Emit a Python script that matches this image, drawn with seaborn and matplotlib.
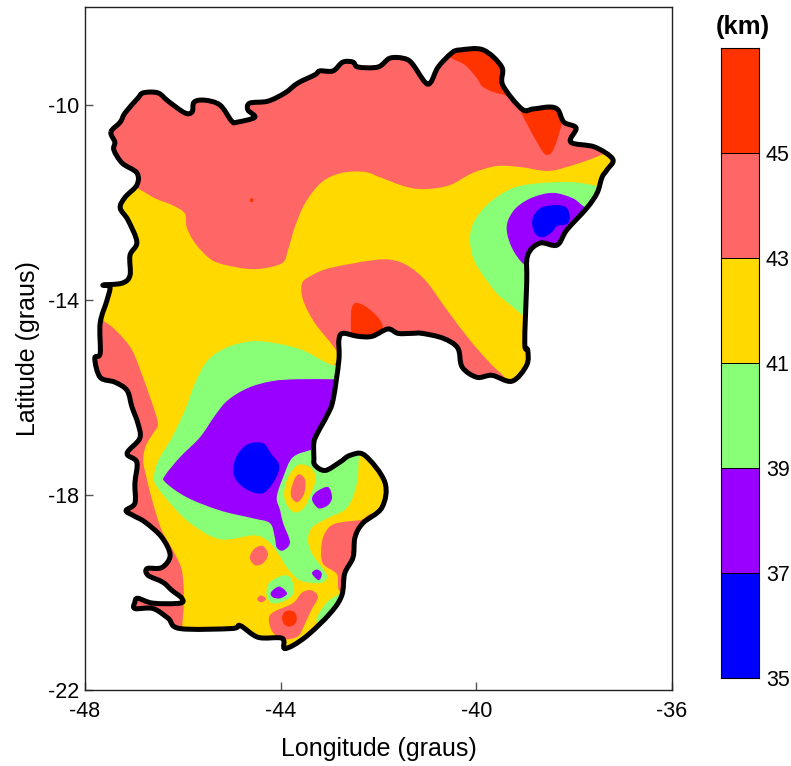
import numpy as np
import matplotlib
matplotlib.use('Agg')
import matplotlib.pyplot as plt
from matplotlib.colors import ListedColormap
from matplotlib.patches import PathPatch
from matplotlib.path import Path
import seaborn as sns

# level colours, lowest to highest
BLUE, PURPLE, GREEN, YELLOW, SALMON, RED = ('#0000FF', '#9900FF', '#88FF77',
                                            '#FFD900', '#FF6666', '#FF3300')
level_colors = [BLUE, PURPLE, GREEN, YELLOW, SALMON, RED]
level_ticks = ['', 45, 43, 41, 39, 37, 35]
level_rows = [5, 4, 3, 2, 1, 0]

x_ticks = [-48, -44, -40, -36]
y_ticks = [-22, -18, -14, -10]

# state border (lon, lat)
border = [(-47.47, -10.56), (-47.28, -10.36), (-47.18, -10.17), (-46.92, -9.87), (-46.81, -9.76),
          (-46.51, -9.76), (-46.30, -9.93), (-45.96, -10.17), (-45.81, -10.15), (-45.77, -9.95),
          (-45.55, -9.91), (-45.24, -10.01), (-45.00, -10.34), (-44.89, -10.36), (-44.53, -10.26),
          (-44.67, -10.11), (-44.63, -9.97), (-44.26, -9.93), (-43.91, -9.76), (-43.65, -9.56),
          (-43.30, -9.39), (-43.20, -9.31), (-42.93, -9.31), (-42.73, -9.13), (-42.52, -9.13),
          (-42.42, -9.23), (-42.01, -9.23), (-41.77, -9.05), (-41.50, -9.05), (-41.32, -9.15),
          (-41.05, -9.54), (-40.93, -9.54), (-40.78, -9.23), (-40.50, -8.94), (-40.33, -8.88),
          (-39.86, -8.88), (-39.48, -9.23), (-39.46, -9.60), (-39.07, -10.09), (-38.84, -10.09),
          (-38.50, -10.05), (-38.33, -10.11), (-38.21, -10.36), (-37.96, -10.48), (-38.07, -10.77),
          (-37.58, -10.87), (-37.21, -11.12), (-37.33, -11.34), (-37.43, -11.49), (-37.53, -11.81),
          (-37.74, -12.12), (-38.15, -12.57), (-38.35, -12.88), (-38.70, -12.84), (-38.95, -13.09),
          (-38.97, -13.66), (-39.01, -14.89), (-38.95, -15.03), (-38.97, -15.34), (-39.27, -15.67),
          (-39.68, -15.55), (-39.99, -15.59), (-40.29, -15.38), (-40.38, -14.99), (-40.68, -14.79),
          (-41.11, -14.69), (-41.32, -14.69), (-41.60, -14.69), (-41.81, -14.60), (-42.13, -14.75),
          (-42.42, -14.75), (-42.73, -14.69), (-42.81, -14.83), (-42.81, -15.24), (-42.93, -16.06),
          (-43.05, -16.37), (-43.24, -16.72), (-43.32, -16.92), (-43.32, -17.23), (-43.30, -17.39),
          (-43.09, -17.50), (-42.79, -17.33), (-42.58, -17.19), (-42.28, -17.19), (-41.87, -17.74),
          (-41.93, -18.26), (-42.32, -18.58), (-42.48, -18.87), (-42.52, -19.28), (-42.69, -19.61),
          (-42.75, -20.06), (-42.99, -20.43), (-43.50, -20.92), (-43.91, -21.15), (-43.97, -20.94),
          (-44.46, -20.92), (-44.83, -20.68), (-45.00, -20.74), (-46.06, -20.74), (-46.30, -20.53),
          (-46.61, -20.33), (-46.98, -20.33), (-46.98, -20.20), (-46.92, -20.12), (-46.61, -20.22),
          (-46.06, -20.22), (-46.02, -20.12), (-46.22, -19.96), (-46.41, -19.79), (-46.71, -19.65),
          (-46.73, -19.51), (-46.43, -19.49), (-46.26, -19.24), (-46.43, -18.87), (-46.77, -18.56),
          (-47.02, -18.42), (-47.16, -18.32), (-46.98, -18.17), (-46.98, -17.76), (-46.94, -17.33),
          (-47.14, -17.15), (-46.88, -16.84), (-46.92, -16.53), (-47.04, -16.20), (-47.14, -15.86),
          (-47.39, -15.69), (-47.69, -15.59), (-47.80, -15.20), (-47.69, -15.10), (-47.69, -14.48),
          (-47.55, -14.01), (-47.49, -13.74), (-47.63, -13.70), (-47.24, -13.66), (-47.08, -13.50),
          (-47.08, -13.09), (-46.94, -12.82), (-47.12, -12.37), (-47.28, -12.12), (-47.18, -11.90),
          (-46.94, -11.65), (-46.94, -11.40), (-47.24, -11.20), (-47.41, -10.93), (-47.39, -10.77)]

# contour regions, the parts outside the border get clipped
north_43 = [(-47.69, -11.34), (-46.94, -11.71), (-46.57, -11.92), (-46.22, -12.06), (-45.96, -12.23),
            (-45.92, -12.51), (-45.75, -12.84), (-45.40, -13.19), (-44.93, -13.33), (-44.46, -13.37),
            (-43.97, -13.25), (-43.85, -12.98), (-43.71, -12.51), (-43.50, -12.02), (-43.16, -11.59),
            (-42.75, -11.40), (-42.28, -11.38), (-41.97, -11.49), (-41.42, -11.69), (-41.01, -11.73),
            (-40.54, -11.65), (-40.07, -11.40), (-39.58, -11.26), (-39.11, -11.28), (-38.56, -11.36),
            (-38.15, -11.28), (-37.47, -11.04), (-36.96, -10.73), (-37.06, -8.68), (-47.69, -8.68)]
top_45 = [(-40.64, -8.88), (-40.54, -9.03), (-40.23, -9.19), (-39.99, -9.46), (-39.86, -9.64),
          (-39.52, -9.78), (-39.11, -9.75), (-39.11, -8.68), (-40.54, -8.68)]
coast_45 = [(-39.27, -9.80), (-39.11, -10.11), (-38.90, -10.52), (-38.64, -10.97), (-38.54, -11.03),
            (-38.45, -10.97), (-38.35, -10.73), (-38.25, -10.38), (-38.09, -9.80)]
dot_45 = [(-44.62, -11.93), (-44.56, -11.93), (-44.56, -11.99), (-44.62, -11.99)]
east_39 = [(-37.27, -11.71), (-37.51, -11.67), (-38.03, -11.59), (-38.70, -11.61), (-39.25, -11.71),
           (-39.72, -12.00), (-40.03, -12.37), (-40.13, -12.72), (-40.07, -13.13), (-39.89, -13.46),
           (-39.58, -13.87), (-39.25, -14.15), (-39.01, -14.34), (-38.60, -14.52), (-37.06, -13.19)]
east_37 = [(-37.47, -12.20), (-37.78, -12.10), (-38.03, -11.92), (-38.43, -11.81), (-38.84, -11.90),
           (-39.17, -12.10), (-39.35, -12.37), (-39.37, -12.64), (-39.25, -12.98), (-39.01, -13.29),
           (-38.60, -13.50), (-37.26, -12.90)]
east_35 = [(-38.86, -12.41), (-38.80, -12.23), (-38.64, -12.10), (-38.35, -12.06), (-38.15, -12.12),
           (-38.09, -12.31), (-38.15, -12.45), (-38.35, -12.49), (-38.45, -12.61), (-38.64, -12.72),
           (-38.80, -12.64)]
center_43 = [(-43.56, -13.66), (-43.36, -13.50), (-42.99, -13.35), (-42.11, -13.19), (-41.70, -13.19),
             (-41.36, -13.33), (-41.01, -13.64), (-40.60, -14.21), (-40.13, -14.83), (-39.72, -15.30),
             (-39.37, -15.65), (-39.31, -15.90), (-42.69, -15.65), (-42.83, -15.10), (-43.30, -14.48),
             (-43.54, -14.01)]
center_45 = [(-42.56, -14.93), (-42.56, -14.67), (-42.56, -14.25), (-42.50, -14.08), (-42.38, -14.08),
             (-42.22, -14.17), (-42.01, -14.36), (-41.91, -14.58), (-42.01, -14.93)]
west_43 = [(-48.00, -14.31), (-47.59, -14.46), (-47.33, -14.67), (-47.04, -15.03), (-46.83, -15.55),
           (-46.67, -16.00), (-46.51, -16.53), (-46.61, -16.74), (-46.75, -16.98), (-46.81, -17.29),
           (-46.73, -17.70), (-46.61, -18.17), (-46.43, -18.73), (-46.20, -19.14), (-46.02, -19.55),
           (-45.98, -20.16), (-46.02, -20.82), (-46.02, -21.30), (-47.90, -21.30)]
center_39 = [(-42.69, -15.28), (-42.95, -15.34), (-43.56, -15.03), (-44.12, -14.89), (-44.59, -14.85),
             (-45.08, -14.97), (-45.49, -15.24), (-45.75, -15.71), (-45.96, -16.27), (-46.22, -16.82),
             (-46.47, -17.23), (-46.57, -17.50), (-46.57, -17.76), (-46.26, -18.17), (-45.85, -18.58),
             (-45.24, -18.91), (-44.57, -18.83), (-44.28, -18.93), (-44.05, -19.20), (-43.87, -19.49),
             (-43.61, -19.75), (-43.20, -19.81), (-43.05, -19.69), (-43.14, -19.51), (-43.36, -19.20),
             (-43.44, -18.93), (-43.36, -18.67), (-43.05, -18.48), (-42.64, -18.26), (-42.44, -17.76),
             (-42.40, -17.23), (-42.34, -16.88), (-42.69, -16.06)]
center_37 = [(-42.69, -15.63), (-42.95, -15.63), (-43.65, -15.63), (-44.18, -15.67), (-44.67, -15.81),
             (-45.08, -16.06), (-45.34, -16.37), (-45.65, -16.82), (-46.06, -17.23), (-46.36, -17.60),
             (-46.36, -17.74), (-45.92, -18.05), (-45.24, -18.32), (-44.57, -18.48), (-44.22, -18.58),
             (-44.12, -18.87), (-44.08, -19.08), (-43.95, -19.14), (-43.81, -18.97), (-43.95, -18.58),
             (-44.01, -18.32), (-44.08, -18.05), (-43.95, -17.64), (-43.75, -17.23), (-43.34, -17.07),
             (-42.89, -16.98), (-42.69, -16.47)]
center_35 = [(-44.97, -17.46), (-44.89, -17.19), (-44.67, -16.96), (-44.36, -16.94), (-44.20, -17.15),
             (-44.03, -17.39), (-44.10, -17.66), (-44.30, -17.93), (-44.48, -17.97), (-44.73, -17.87),
             (-44.92, -17.68)]
ring_41 = [(-43.93, -17.97), (-43.85, -17.64), (-43.65, -17.39), (-43.40, -17.43), (-43.28, -17.66),
           (-43.38, -17.97), (-43.52, -18.26), (-43.71, -18.36), (-43.87, -18.21)]
ring_43 = [(-43.79, -17.91), (-43.71, -17.66), (-43.61, -17.58), (-43.50, -17.70), (-43.52, -17.97),
           (-43.65, -18.15), (-43.77, -18.07)]
small_37 = [(-43.36, -18.07), (-43.26, -17.93), (-43.03, -17.84), (-42.95, -18.05), (-43.03, -18.21),
            (-43.20, -18.28), (-43.30, -18.21)]
se_43 = [(-42.10, -18.50), (-42.38, -18.52), (-42.85, -18.58), (-43.05, -18.71), (-43.16, -18.99),
         (-43.14, -19.40), (-42.85, -19.63), (-42.77, -20.00), (-42.17, -20.06)]
se_39 = [(-43.24, -20.61), (-43.14, -20.31), (-42.95, -20.12), (-42.75, -20.08), (-42.58, -20.57)]
blob_43 = [(-44.63, -19.28), (-44.53, -19.10), (-44.36, -19.05), (-44.26, -19.22), (-44.36, -19.40),
           (-44.53, -19.44)]
south_39 = [(-44.28, -19.90), (-44.20, -19.77), (-43.95, -19.65), (-43.79, -19.71), (-43.73, -20.00),
            (-43.93, -20.18), (-44.18, -20.22), (-44.28, -20.08)]
south_37 = [(-44.20, -20.00), (-44.03, -19.88), (-43.87, -20.02), (-44.01, -20.12), (-44.16, -20.10)]
tiny_37 = [(-43.36, -19.61), (-43.26, -19.53), (-43.16, -19.61), (-43.22, -19.75)]
tiny_43 = [(-44.48, -20.14), (-44.40, -20.06), (-44.30, -20.14), (-44.40, -20.20)]
south_43 = [(-44.24, -20.57), (-44.16, -20.41), (-43.75, -20.22), (-43.56, -20.00), (-43.36, -19.96),
            (-43.24, -20.10), (-43.38, -20.37), (-43.52, -20.68), (-43.65, -20.90), (-43.95, -20.96),
            (-44.16, -20.82)]
south_45 = [(-43.97, -20.53), (-43.93, -20.41), (-43.83, -20.37), (-43.71, -20.41), (-43.67, -20.53),
            (-43.71, -20.65), (-43.83, -20.70), (-43.93, -20.65)]

regions = [(north_43, SALMON), (top_45, RED), (coast_45, RED), (dot_45, RED),
           (east_39, GREEN), (east_37, PURPLE), (east_35, BLUE),
           (center_43, SALMON), (center_45, RED), (west_43, SALMON),
           (center_39, GREEN), (center_37, PURPLE), (center_35, BLUE),
           (ring_41, YELLOW), (ring_43, SALMON), (small_37, PURPLE),
           (se_43, SALMON), (se_39, GREEN), (blob_43, SALMON),
           (south_39, GREEN), (south_37, PURPLE), (tiny_37, PURPLE),
           (tiny_43, SALMON), (south_43, SALMON), (south_45, RED)]


# closed bezier path going through every point, keeps the contours round
def smooth_path(points):
    pts = np.array(points)
    before, after = np.roll(pts, 1, axis=0), np.roll(pts, -1, axis=0)
    after2 = np.roll(pts, -2, axis=0)
    verts = [pts[0]]
    codes = [Path.MOVETO]
    for p0, p1, p2, p3 in zip(before, pts, after, after2):
        verts += [p1 + (p2 - p0) / 6, p2 - (p3 - p1) / 6, p2]
        codes += [Path.CURVE4, Path.CURVE4, Path.CURVE4]
    return Path(verts, codes)


sns.set_theme(style='white', rc={'text.color': 'black', 'axes.labelcolor': 'black',
                                 'xtick.color': 'black', 'ytick.color': 'black',
                                 'axes.unicode_minus': False,
                                 'xtick.bottom': True, 'ytick.left': True})
plt.rcParams['font.family'] = ['Liberation Sans', 'DejaVu Sans']

fig = plt.figure(figsize=(7.91, 7.66), dpi=100)
ax = fig.add_axes([85 / 791, 1 - 690 / 766, 587 / 791, 683 / 766])
cax = fig.add_axes([721 / 791, 1 - 678 / 766, 38 / 791, 630 / 766])

state = PathPatch(smooth_path(border), facecolor=YELLOW, edgecolor='none', zorder=1)
ax.add_patch(state)
for points, color in regions:
    patch = PathPatch(smooth_path(points), facecolor=color, edgecolor='none', zorder=2)
    ax.add_patch(patch)
    patch.set_clip_path(state)
ax.add_patch(PathPatch(smooth_path(border), facecolor='none', edgecolor='black',
                       linewidth=3.6, joinstyle='round', zorder=3))

ax.set_xlim(-48, -36)
ax.set_ylim(-22, -8)
ax.set_xticks(x_ticks)
ax.set_yticks(y_ticks)
ax.tick_params(axis='x', direction='in', length=6, width=1, color='#555555', labelsize=15.5, pad=8)
ax.tick_params(axis='y', direction='in', length=6, width=1, color='#555555', labelsize=15.5, pad=4)
ax.set_xlabel('Longitude (graus)', fontsize=18, labelpad=11)
ax.set_ylabel('Latitude (graus)', fontsize=18, labelpad=6)
for spine in ax.spines.values():
    spine.set_edgecolor('#222222')
    spine.set_linewidth(1)

sns.heatmap(np.array(level_rows).reshape(-1, 1), ax=cax, cmap=ListedColormap(level_colors),
            vmin=-0.5, vmax=5.5, cbar=False, linewidths=0.5, linecolor='black',
            xticklabels=False, yticklabels=False)
cax.yaxis.tick_right()
cax.set_yticks(np.arange(len(level_ticks)))
cax.set_yticklabels(level_ticks, rotation=0, fontsize=15.5)
cax.tick_params(length=0, pad=5)
for spine in cax.spines.values():
    spine.set_visible(True)
    spine.set_edgecolor('black')
    spine.set_linewidth(0.8)
fig.text(742.5 / 791, 1 - 27 / 766, '(km)', fontsize=18.5, fontweight='bold', ha='center', va='center')

fig.savefig('out.png', dpi=100)
